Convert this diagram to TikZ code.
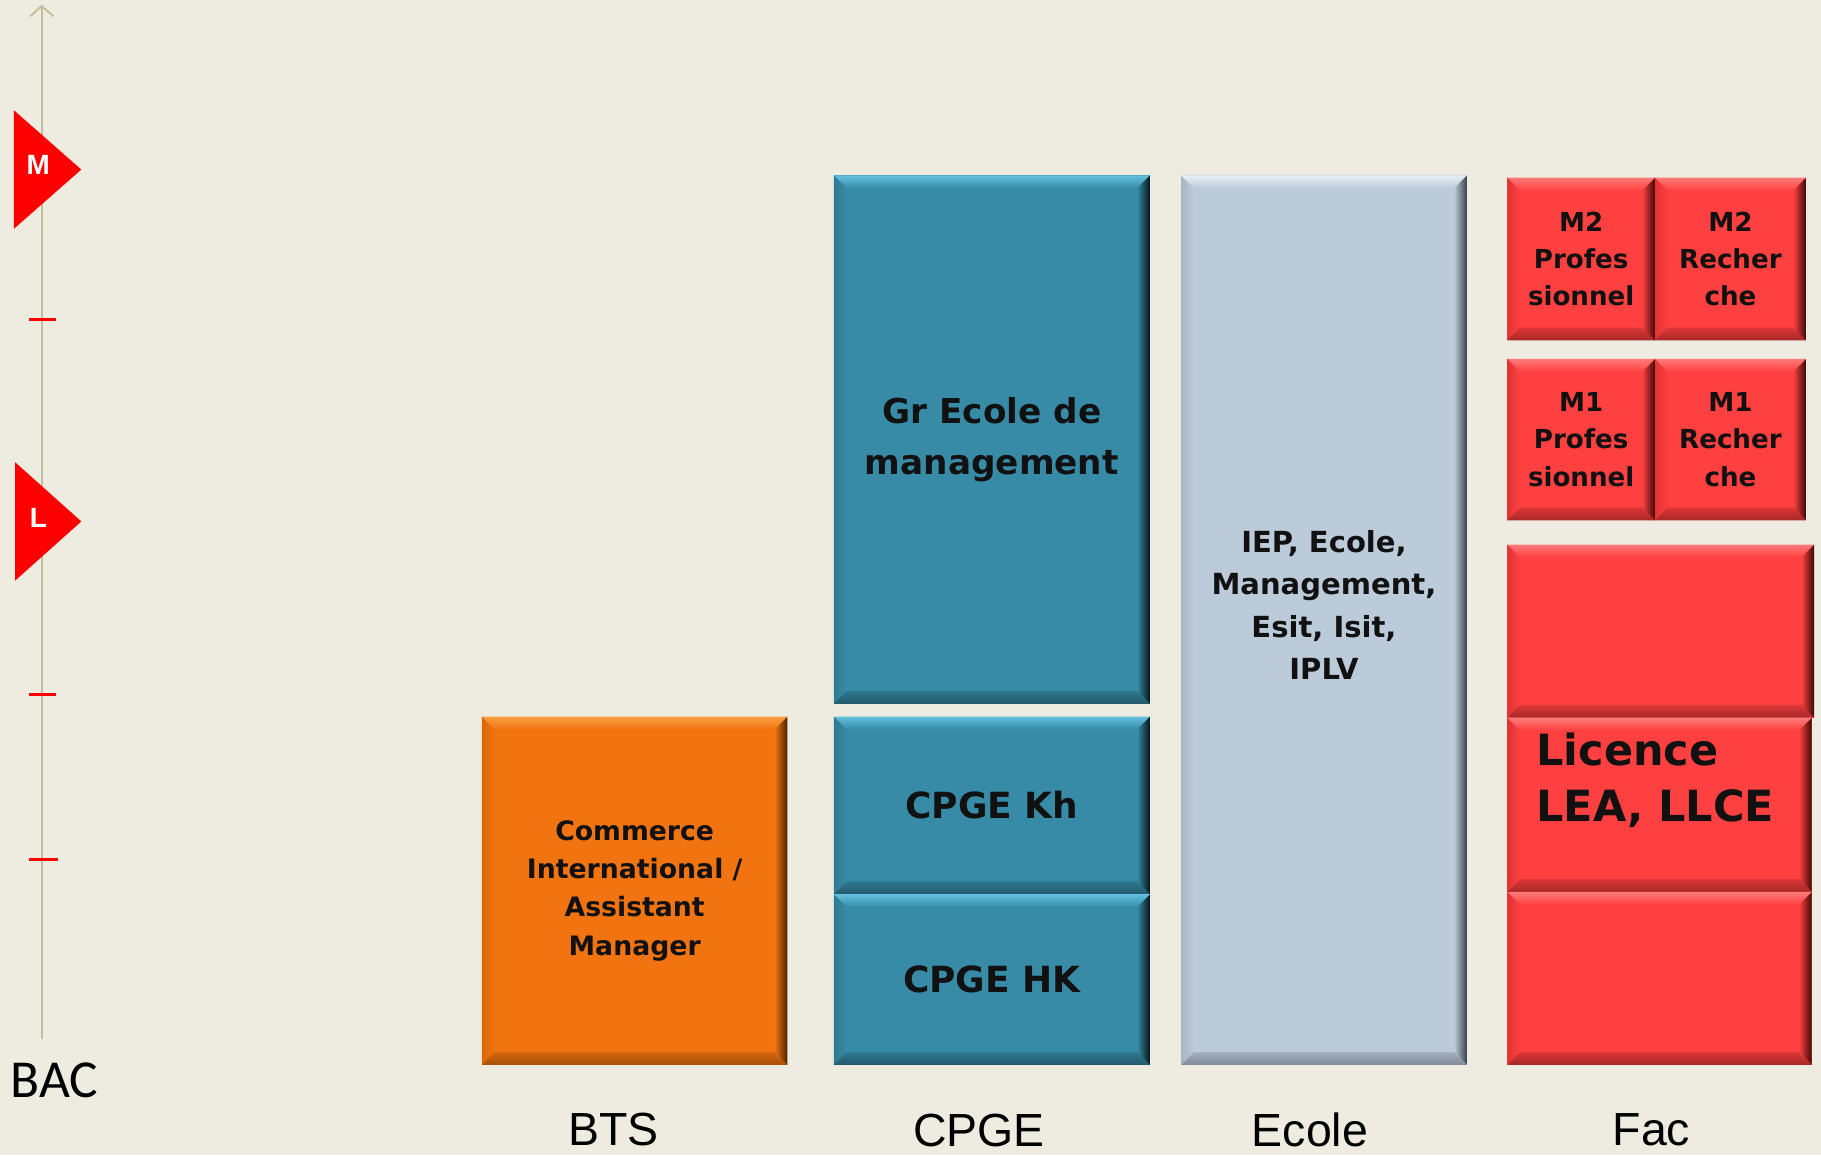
\documentclass[tikz,border=0pt]{standalone}
\usepackage{fontspec}
\newfontfamily\boxfont{DejaVu Sans}
\newfontfamily\lblfont{Liberation Sans}
\newfontfamily\bacfont{Carlito}
\usetikzlibrary{calc,arrows.meta}
\definecolor{bgc}{HTML}{EEEBE0}
\definecolor{axisc}{HTML}{C6BE9A}
\definecolor{tickred}{HTML}{FF0000}
\definecolor{txt}{HTML}{111111}
% orange
\definecolor{orbase}{HTML}{F17411}
\definecolor{orhi}{HTML}{F8A040}
\definecolor{orlo}{HTML}{A85008}
\definecolor{orlt}{HTML}{D96608}
\definecolor{orrt}{HTML}{4A2200}
% teal
\definecolor{tlbase}{HTML}{378BA6}
\definecolor{tlhi}{HTML}{62C0DE}
\definecolor{tllo}{HTML}{235A6C}
\definecolor{tllt}{HTML}{2E7A92}
\definecolor{tlrt}{HTML}{05161C}
% light blue
\definecolor{lbbase}{HTML}{BCCBDA}
\definecolor{lbhi}{HTML}{E6EEF6}
\definecolor{lblo}{HTML}{7F8A96}
\definecolor{lblt}{HTML}{A8B5C2}
\definecolor{lbrt}{HTML}{3A4048}
% red
\definecolor{rdbase}{HTML}{FF4040}
\definecolor{rdhi}{HTML}{FF7A7A}
\definecolor{rdlo}{HTML}{A82828}
\definecolor{rdlt}{HTML}{E03434}
\definecolor{rdrt}{HTML}{3C0808}

\newcommand\bevw{11}
\newcommand\bevelbox[2]{%
 \shade[left color=#2lt, right color=#2base] (#1.north west) -- ($(#1.north west)+(\bevw,\bevw)$) -- ($(#1.south west)+(\bevw,-\bevw)$) -- (#1.south west) -- cycle;
 \shade[left color=#2base, right color=#2rt] (#1.north east) -- (#1.south east) -- ($(#1.south east)+(-\bevw,-\bevw)$) -- ($(#1.north east)+(-\bevw,\bevw)$) -- cycle;
 \shade[top color=#2hi, bottom color=#2base] (#1.north west) -- (#1.north east) -- ($(#1.north east)+(-\bevw,\bevw)$) -- ($(#1.north west)+(\bevw,\bevw)$) -- cycle;
 \shade[top color=#2base!60!#2lo, bottom color=#2lo] (#1.south west) -- ($(#1.south west)+(\bevw,-\bevw)$) -- ($(#1.south east)+(-\bevw,-\bevw)$) -- (#1.south east) -- cycle;
}
\newcommand\fbts{\boxfont\bfseries\fontsize{23}{33}\selectfont}
\newcommand\fgr{\boxfont\bfseries\fontsize{29.5}{44}\selectfont}
\newcommand\fkh{\boxfont\bfseries\fontsize{31}{38}\selectfont}
\newcommand\fec{\boxfont\bfseries\fontsize{25}{36.5}\selectfont}
\newcommand\fmm{\boxfont\bfseries\fontsize{22.5}{32}\selectfont}
\newcommand\flic{\boxfont\bfseries\fontsize{37}{48}\selectfont}

\tikzset{
 box/.style={rectangle, inner sep=0pt, outer sep=0pt, align=center, text=txt},
 lbl/.style={inner sep=0pt, anchor=base, font=\lblfont\fontsize{40}{48}\selectfont, text=black},
 tickline/.style={draw=tickred, line width=2.5},
 axisline/.style={draw=axisc, line width=2, -{Straight Barb[length=9, width=20, line width=1.6]}},
 tri/.style={fill=tickred},
 trilbl/.style={inner sep=0pt, text=white, font=\lblfont\bfseries\fontsize{24}{28}\selectfont},
}

\begin{document}
\begin{tikzpicture}[x=1pt,y=-1pt]
\fill[bgc] (0,0) rectangle (1568,994.6);
\useasboundingbox (0,0) rectangle (1568,994.6);

% axis
\coordinate (axb) at (36,895);
\coordinate (axt) at (36,4);
\draw[axisline] (axb) -- (axt);
\draw[tickline] (25,275) -- (48,275);
\draw[tickline] (25,598) -- (48,598);
\draw[tickline] (25,740) -- (50,740);
\fill[tri] (12,95) -- (70,146) -- (12,197) -- cycle;
\node[trilbl] (mlab) at (33,142) {M};
\fill[tri] (13,398) -- (70,449) -- (13,500) -- cycle;
\node[trilbl] (llab) at (33,446) {L};
\node[inner sep=0pt, anchor=base, font=\bacfont\fontsize{46}{50}\selectfont] (bac) at (47,945) {BAC};

% BTS
\node[box, fill=orbase, minimum width=263, minimum height=300, font=\fbts] (bts) at (546.5,767) {Commerce\\International /\\Assistant\\Manager};
\bevelbox{bts}{or}

% CPGE
\node[box, fill=tlbase, minimum width=272, minimum height=455, font=\fgr] (gr) at (854,378.5) {Gr Ecole de\\management};
\bevelbox{gr}{tl}
\node[box, fill=tlbase, minimum width=272, minimum height=153, font=\fkh] (kh) at (854,693.5) {CPGE Kh};
\bevelbox{kh}{tl}
\node[box, fill=tlbase, minimum width=272, minimum height=147, font=\fkh] (hk) at (854,843.5) {CPGE HK};
\bevelbox{hk}{tl}

% Ecole
\node[box, fill=lbbase, minimum width=246, minimum height=766] (ec) at (1140,534) {};
\bevelbox{ec}{lb}
\node[box, font=\fec] (ectxt) at (1140,521) {IEP, Ecole,\\Management,\\Esit, Isit,\\IPLV};

% Fac
\node[box, fill=rdbase, minimum width=127, minimum height=140, font=\fmm] (m2p) at (1361.5,223) {M2\\Profes\\sionnel};
\bevelbox{m2p}{rd}
\node[box, fill=rdbase, minimum width=130, minimum height=140, font=\fmm] (m2r) at (1490,223) {M2\\Recher\\che};
\bevelbox{m2r}{rd}
\node[box, fill=rdbase, minimum width=127, minimum height=139, font=\fmm] (m1p) at (1361.5,378.5) {M1\\Profes\\sionnel};
\bevelbox{m1p}{rd}
\node[box, fill=rdbase, minimum width=130, minimum height=139, font=\fmm] (m1r) at (1490,378.5) {M1\\Recher\\che};
\bevelbox{m1r}{rd}
\node[box, fill=rdbase, minimum width=264, minimum height=149] (l3) at (1430,543.5) {};
\bevelbox{l3}{rd}
\node[box, fill=rdbase, minimum width=262, minimum height=150] (l2) at (1429,693) {};
\bevelbox{l2}{rd}
\node[box, fill=rdbase, minimum width=262, minimum height=149] (l1) at (1429,842.5) {};
\bevelbox{l1}{rd}
\node[box, align=left, anchor=north west, font=\flic] (lic) at (1323,631) {Licence\\LEA, LLCE};

% column labels
\node[lbl] (lbts) at (528,986) {BTS};
\node[lbl] (lcpge) at (843,987) {CPGE};
\node[lbl] (lecole) at (1128,987) {Ecole};
\node[lbl] (lfac) at (1422,986) {Fac};
\end{tikzpicture}
\end{document}
